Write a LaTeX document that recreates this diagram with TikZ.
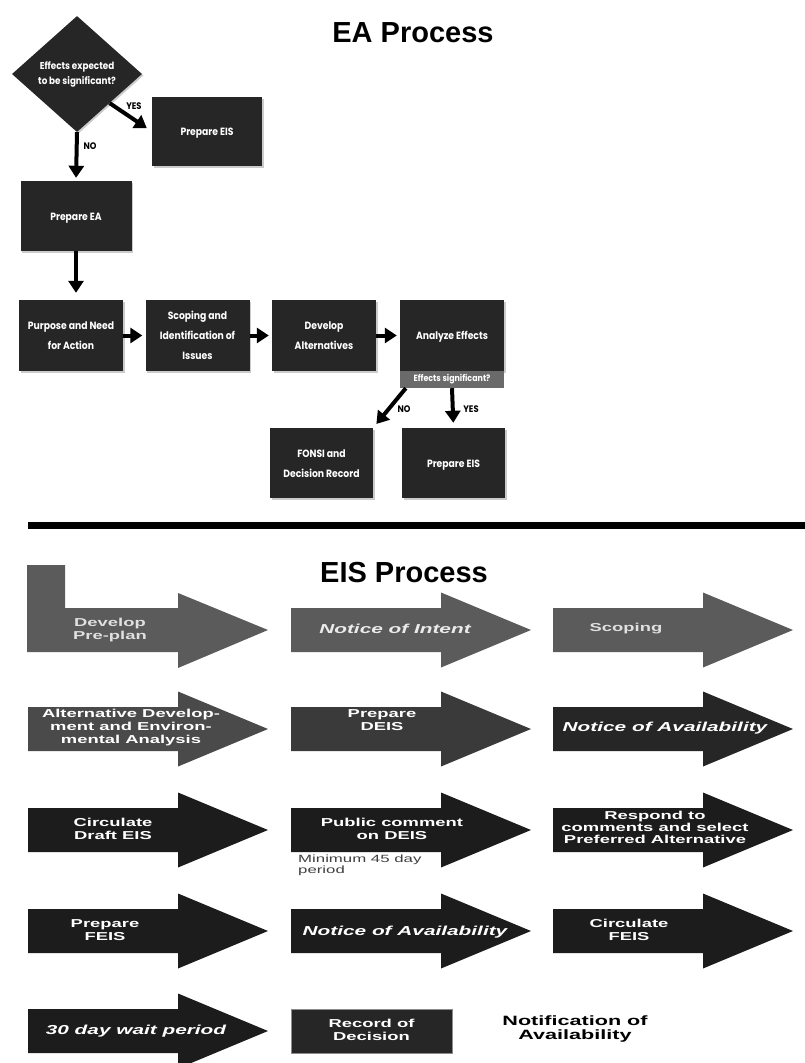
\documentclass[tikz,border=0pt]{standalone}
\usepackage{fontspec}
\setmainfont{Liberation Sans}
\newfontfamily\gothic{Poppins}
\usepackage{graphicx}
\usetikzlibrary{shapes.geometric,arrows.meta,shadows,calc}
\definecolor{boxdark}{HTML}{262626}
\definecolor{bandgrey}{HTML}{6A6A6A}
\definecolor{rowA}{HTML}{5B5B5B}
\definecolor{rowBa}{HTML}{4A4A4A}
\definecolor{rowBb}{HTML}{3A3A3A}
\definecolor{rowBc}{HTML}{262626}
\definecolor{rowC}{HTML}{1C1C1C}
\newcommand\wtxt[2][c]{\scalebox{1.6}[1]{\begin{tabular}{@{}#1@{}}#2\end{tabular}}}
\newcommand\gtxt[1]{\scalebox{0.88}[1]{\begin{tabular}{@{}c@{}}#1\end{tabular}}}
\newcommand\eisarrow[3]{%
  \fill[#3] (#1,#2-22) -- (#1+150,#2-22) -- (#1+150,#2-37.5) -- (#1+240,#2)
    -- (#1+150,#2+37.5) -- (#1+150,#2+22) -- (#1,#2+22) -- cycle;}
\begin{document}
\begin{tikzpicture}[x=1pt,y=-1pt,
  title/.style={font=\bfseries\fontsize{29}{34}\selectfont, inner sep=0pt},
  eabox/.style={fill=boxdark, text=white, inner sep=0pt, align=center,
    font=\gothic\bfseries\fontsize{10.5}{20}\selectfont,
    drop shadow={shadow xshift=1.5pt, shadow yshift=-1.5pt, fill=black!40, opacity=0.5}},
  wbox/.style={eabox, minimum width=104pt, minimum height=71pt},
  lbl/.style={font=\gothic\bfseries\fontsize{9.5}{10}\selectfont, inner sep=0pt},
  bigarrow/.style={line width=4pt, -{Triangle[length=12pt,width=15pt]}},
  eistxt/.style={text=white, inner sep=0pt, font=\bfseries\fontsize{11.5}{13}\selectfont},
  eisital/.style={text=white, inner sep=0pt, font=\bfseries\itshape\fontsize{13}{15}\selectfont},
]
\useasboundingbox (0,0) rectangle (805,1063);
\clip (0,0) rectangle (805,1063);
\fill[white] (0,0) rectangle (805,1063);

% ---------- EA process ----------
\node[title] (eatitle) at (413,33) {EA Process};

\node[diamond, fill=boxdark, minimum width=130pt, minimum height=116pt, inner sep=0pt,
  text=white, font=\gothic\bfseries\fontsize{10}{15}\selectfont,
  drop shadow={shadow xshift=1.5pt, shadow yshift=-1.5pt, fill=black!40, opacity=0.5}]
  (dia) at (77,74) {\gtxt{Effects expected\\to be significant?}};

\node[eabox, minimum width=110pt, minimum height=69pt] (eis1) at (207,131.5) {\gtxt{Prepare EIS}};
\node[eabox, minimum width=111pt, minimum height=70pt] (ea) at (76,216) {\gtxt{Prepare EA}};

\node[wbox] (purpose) at (71,335.5) {\gtxt{Purpose and Need\\for Action}};
\node[wbox] (scoping) at (197.5,335.5) {\gtxt{Scoping and\\Identification of\\Issues}};
\node[wbox] (develop) at (324,335.5) {\gtxt{Develop\\Alternatives}};
\node[wbox] (analyze) at (452,335.5) {\gtxt{Analyze Effects}};
\node[fill=bandgrey, text=white, minimum width=104pt, minimum height=17pt, inner sep=0pt,
  font=\gothic\bfseries\fontsize{9}{10}\selectfont] (band) at (452,379.5) {\gtxt{Effects significant?}};
\node[eabox, minimum width=103pt, minimum height=70pt] (fonsi) at (321.5,463) {\gtxt{FONSI and\\Decision Record}};
\node[eabox, minimum width=103pt, minimum height=70pt] (eis2) at (453.5,463) {\gtxt{Prepare EIS}};

\draw[bigarrow, shorten >=6pt] (dia.south east) -- (eis1.west);
\draw[bigarrow, shorten >=3pt] (dia.south) -- (ea.north);
\draw[bigarrow, shorten >=7pt] (ea.south) -- (ea.south |- purpose.north);
\draw[bigarrow, shorten >=3pt] (purpose) -- (scoping);
\draw[bigarrow, shorten >=3pt] (scoping) -- (develop);
\draw[bigarrow, shorten >=3pt] (develop) -- (analyze);
\draw[bigarrow, shorten >=5pt] ($(band.south west)+(6,0)$) -- (fonsi.north east);
\draw[bigarrow, shorten >=5pt] (band.south) -- (eis2.north);

\node[lbl] (yes1) at (134,107) {\gtxt{YES}};
\node[lbl] (no1) at (90,147) {\gtxt{NO}};
\node[lbl] (no2) at (404,410) {\gtxt{NO}};
\node[lbl] (yes2) at (471,410) {\gtxt{YES}};

% ---------- divider ----------
\draw[line width=7pt] (28,525) -- (805,525);

% ---------- EIS process ----------
\node[title] (eistitle) at (404,573) {EIS Process};

% row 1
\fill[rowA] (27,565) -- (65,565) -- (65,608) -- (178,608) -- (178,593) -- (268,630)
  -- (178,668) -- (178,652) -- (27,652) -- cycle;
\eisarrow{291}{630}{rowA}
\eisarrow{553}{630}{rowA}
% row 2
\eisarrow{28}{729}{rowBa}
\eisarrow{291}{729}{rowBb}
\eisarrow{553}{729}{rowBc}
% row 3
\eisarrow{28}{830}{rowC}
\eisarrow{291}{830}{rowC}
\eisarrow{553}{830}{rowC}
% row 4
\eisarrow{28}{931}{rowC}
\eisarrow{291}{931}{rowC}
\eisarrow{553}{931}{rowC}
% row 5
\eisarrow{28}{1031}{rowC}

\node[eistxt, text=black!12] (t11) at (110,630) {\wtxt{Develop\\Pre-plan}};
\node[eisital, text=black!8] (t12) at (395,630) {\wtxt{Notice of Intent}};
\node[eistxt, text=black!12] (t13) at (626,629) {\wtxt{Scoping}};

\node[eistxt] (t21) at (131,728) {\wtxt{Alternative Develop-\\ment and Environ-\\mental Analysis}};
\node[eistxt] (t22) at (382,721) {\wtxt{Prepare\\DEIS}};
\node[eisital] (t23) at (665,728) {\wtxt{Notice of Availability}};

\node[eistxt] (t31) at (113,830) {\wtxt{Circulate\\Draft EIS}};
\node[eistxt] (t32) at (392,830) {\wtxt{Public comment\\on DEIS}};
\node[eistxt, font=\bfseries\fontsize{11.5}{12}\selectfont] (t33) at (655,829)
  {\wtxt{Respond to\\comments and select\\Preferred Alternative}};
\node[anchor=west, inner sep=0pt, text=black!75, font=\fontsize{10.5}{11}\selectfont]
  (t34) at (298,865.5) {\wtxt[l]{Minimum 45 day\\period}};

\node[eistxt] (t41) at (105,931) {\wtxt{Prepare\\FEIS}};
\node[eisital] (t42) at (405,932) {\wtxt{Notice of Availability}};
\node[eistxt] (t43) at (629,931) {\wtxt{Circulate\\FEIS}};

\node[eisital] (t51) at (136,1031) {\wtxt{30 day wait period}};
\node[fill=boxdark, draw=black!45, line width=0.8pt, minimum width=161pt, minimum height=44pt,
  inner sep=0pt, text=white, font=\bfseries\fontsize{11.5}{13}\selectfont]
  (rod) at (371.5,1031) {\wtxt{Record of\\Decision}};
\node[inner sep=0pt, text=black, font=\bfseries\fontsize{13.5}{14}\selectfont]
  (t53) at (575,1030) {\wtxt{Notification of\\Availability}};
\end{tikzpicture}
\end{document}
